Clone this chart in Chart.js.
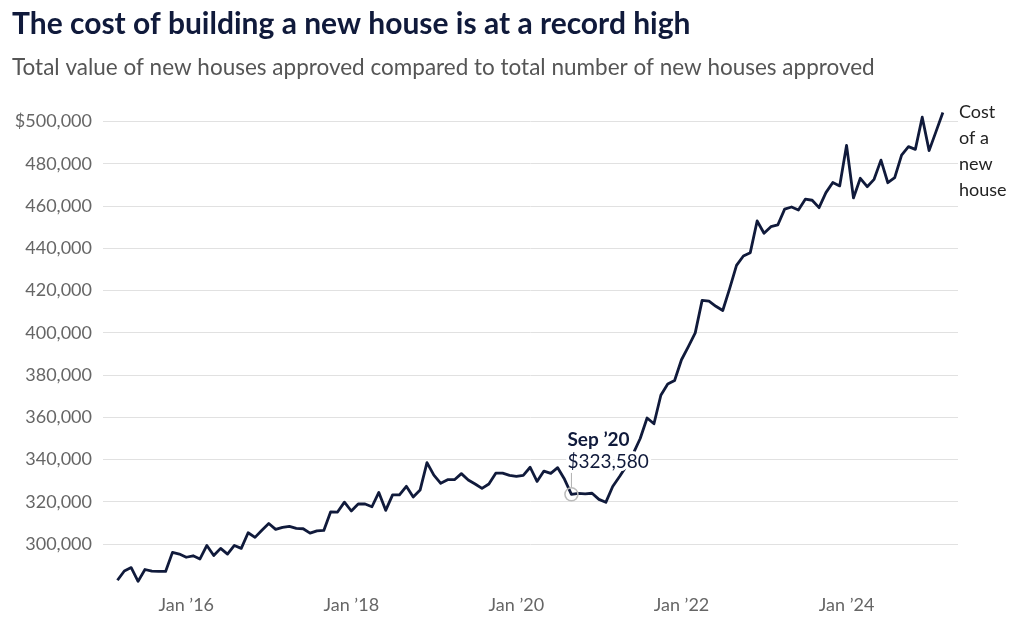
<!DOCTYPE html>
<html>
<head>
<meta charset="utf-8">
<script src="https://cdn.jsdelivr.net/npm/chart.js@4.4.1/dist/chart.umd.min.js"></script>
<style>
  html, body { margin: 0; padding: 0; background: #fff; }
  #wrap { position: relative; width: 1024px; height: 631px; }
</style>
</head>
<body>
<div id="wrap"><canvas id="myChart" width="1024" height="631"></canvas></div>
<script>
// Monthly series, Mar 2015 .. Mar 2025 (121 months)
const startYear = 2015;
const startMonth = 2; // March (0-based)
const monthNames = ['Jan', 'Feb', 'Mar', 'Apr', 'May', 'Jun', 'Jul', 'Aug', 'Sep', 'Oct', 'Nov', 'Dec'];

// Cost of a new house ($)
const costValues = [
    282900, 287300, 288900, 282400, 288000, 287200, 287100, 287100, 296100, 295300,
    293800, 294500, 293000, 299400, 294600, 298000, 295300, 299400, 298000, 305400,
    303200, 306600, 309800, 307000, 307900, 308400, 307500, 307300, 305200, 306300,
    306500, 315300, 315200, 319900, 315700, 319000, 319000, 317700, 324500, 316000,
    323300, 323300, 327400, 322300, 325600, 338600, 332700, 328800, 330500, 330500,
    333400, 330400, 328500, 326400, 328500, 333600, 333600, 332600, 332100, 332600,
    336400, 329700, 334600, 333500, 336200, 330700, 323580, 324000, 323800, 324100,
    321200, 319800, 327300, 332000, 337000, 343000, 350000, 359700, 357000, 370500,
    375800, 377500, 387300, 393500, 400000, 415400, 415000, 412600, 410600, 421000,
    432000, 436400, 438000, 453000, 447200, 450300, 451100, 458600, 459600, 458200,
    463300, 462800, 459300, 466400, 471200, 469600, 488800, 463900, 473200, 469200,
    472700, 481800, 471100, 473500, 484200, 488200, 486900, 502100, 486300, 495300,
    504300
];

// x-axis tick labels shown (January of even years)
const xTickLabels = ["Jan \u201916", "Jan \u201918", "Jan \u201920", "Jan \u201922", "Jan \u201924"];
const yTickValues = [300000, 320000, 340000, 360000, 380000, 400000, 420000, 440000, 460000, 480000, 500000];

// highlighted point
const highlightLabel = "Sep \u201920";
const seriesLabel = ['Cost', 'of a', 'new', 'house'];

const navy = '#101a3b';

const monthLabels = costValues.map((_, i) => {
    const m = (startMonth + i) % 12;
    const y = startYear + Math.floor((startMonth + i) / 12);
    return monthNames[m] + ' \u2019' + String(y).slice(2);
});
const xTickIndex = xTickLabels.map(l => monthLabels.indexOf(l));
const highlightIndex = monthLabels.indexOf(highlightLabel);

const annotationPlugin = {
    id: 'annotations',
    afterDatasetsDraw(chart) {
        const ctx = chart.ctx;
        const xs = chart.scales.x, ys = chart.scales.y;

        // Sep '20 callout
        const px = xs.getPixelForValue(highlightIndex);
        const py = ys.getPixelForValue(costValues[highlightIndex]);
        ctx.save();
        ctx.strokeStyle = '#b0b0b0';
        ctx.lineWidth = 1;
        ctx.beginPath();
        ctx.moveTo(px, py - 7);
        ctx.lineTo(px, py - 25);
        ctx.stroke();

        ctx.textAlign = 'left';
        ctx.textBaseline = 'middle';
        ctx.lineJoin = 'round';
        const tx = px - 4;
        const lines = [
            { text: highlightLabel, font: 'bold 19px Lato', y: py - 54 },
            { text: '$' + costValues[highlightIndex].toLocaleString('en-US'), font: '19px Lato', y: py - 32 }
        ];
        lines.forEach(l => {
            ctx.font = l.font;
            ctx.strokeStyle = '#fff';
            ctx.lineWidth = 6;
            ctx.strokeText(l.text, tx, l.y);
            ctx.fillStyle = navy;
            ctx.fillText(l.text, tx, l.y);
        });

        // series label at the end of the line
        const last = costValues.length - 1;
        const ly = ys.getPixelForValue(costValues[last]);
        ctx.font = '18px Lato';
        ctx.fillStyle = '#222';
        seriesLabel.forEach((t, k) => {
            ctx.fillText(t, chart.chartArea.right + 1, ly + k * 26);
        });
        ctx.restore();
    }
};

document.addEventListener("DOMContentLoaded", () => {
    const ctx = document.getElementById('myChart').getContext('2d');

    new Chart(ctx, {
        type: 'line',
        data: {
            datasets: [{
                label: 'Cost of a new house',
                data: costValues.map((v, i) => ({ x: i, y: v })),
                borderColor: navy,
                borderWidth: 2.8,
                borderJoinStyle: 'round',
                tension: 0,
                pointRadius: costValues.map((_, i) => i === highlightIndex ? 6.5 : 0),
                pointBorderColor: '#bbbbbb',
                pointBorderWidth: 1.5,
                pointBackgroundColor: 'rgba(255,255,255,0)',
                pointHoverRadius: 0
            }]
        },
        options: {
            responsive: false,
            animation: false,
            layout: { padding: { left: 12, right: 66, top: 0, bottom: 7 } },
            plugins: {
                legend: { display: false },
                tooltip: { enabled: false },
                title: {
                    display: true,
                    text: 'The cost of building a new house is at a record high',
                    align: 'start',
                    color: navy,
                    font: { family: 'Lato', size: 30, weight: 'bold' },
                    padding: { top: 6, bottom: 0 }
                },
                subtitle: {
                    display: true,
                    text: 'Total value of new houses approved compared to total number of new houses approved',
                    align: 'start',
                    color: '#555',
                    font: { family: 'Lato', size: 22.5 },
                    padding: { top: 12.5, bottom: 27.5 }
                }
            },
            scales: {
                x: {
                    type: 'linear',
                    min: -2.1,
                    max: 122.2,
                    grid: { display: false, drawTicks: false },
                    border: { display: false },
                    afterBuildTicks: scale => {
                        scale.ticks = xTickIndex.map(v => ({ value: v }));
                    },
                    ticks: {
                        color: '#666',
                        padding: 8,
                        maxRotation: 0,
                        autoSkip: false,
                        font: { family: 'Lato', size: 18 },
                        callback: value => monthLabels[value]
                    }
                },
                y: {
                    min: 280000,
                    max: 506000,
                    grid: { color: '#e1e1e1', drawTicks: false },
                    border: { display: false },
                    afterBuildTicks: scale => {
                        scale.ticks = yTickValues.map(v => ({ value: v }));
                    },
                    afterFit: scale => { scale.width = 91; },
                    ticks: {
                        color: '#666',
                        padding: 11,
                        font: { family: 'Lato', size: 18 },
                        callback: value => (value === 500000 ? '$' : '') + value.toLocaleString('en-US')
                    }
                }
            }
        },
        plugins: [annotationPlugin]
    });
});
</script>
</body>
</html>
